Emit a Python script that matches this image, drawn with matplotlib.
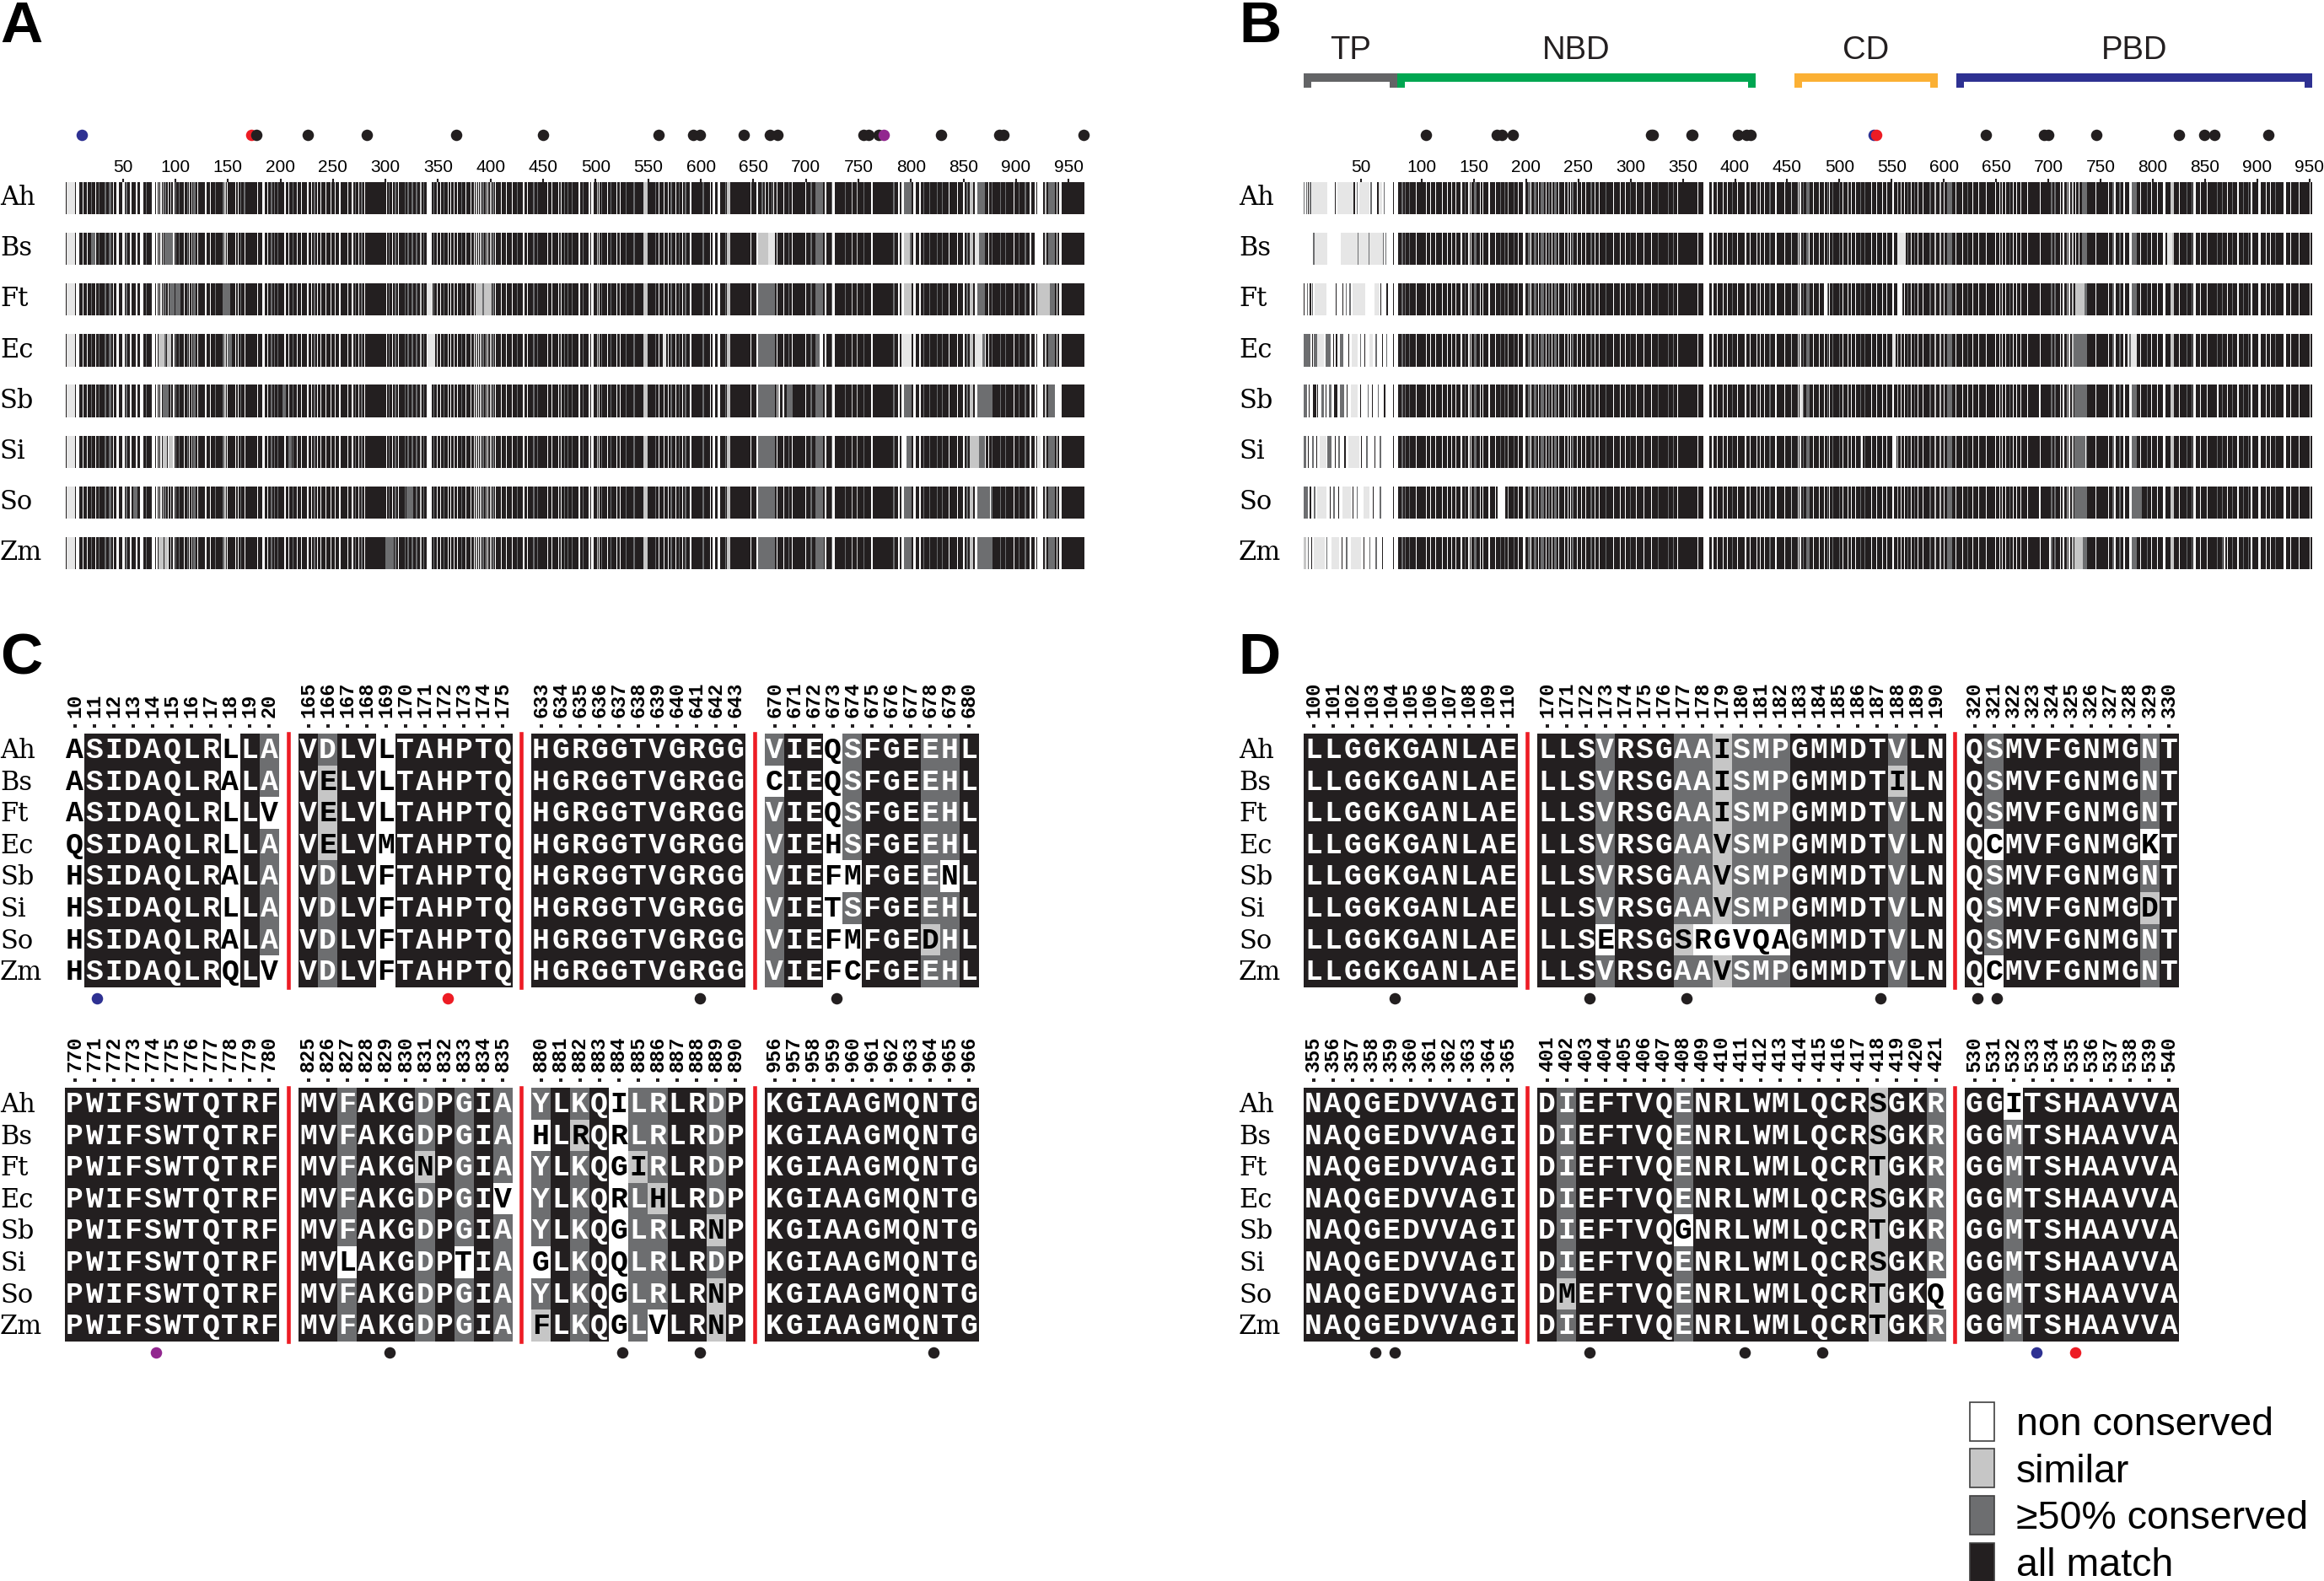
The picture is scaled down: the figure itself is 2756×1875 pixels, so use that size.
import matplotlib
matplotlib.use('Agg')
import matplotlib.pyplot as plt
from matplotlib.colors import ListedColormap
from matplotlib.patches import Rectangle

W, H = 2756, 1875

species = ['Ah', 'Bs', 'Ft', 'Ec', 'Sb', 'Si', 'So', 'Zm']

# alignment, panel C
c1_seq = ['ASIDAQLRLLA', 'ASIDAQLRALA', 'ASIDAQLRLLV', 'QSIDAQLRLLA', 'HSIDAQLRALA', 'HSIDAQLRLLA', 'HSIDAQLRALA', 'HSIDAQLRQLV']
c1_cons = ['nkkkkkkknkd', 'nkkkkkkknkd', 'nkkkkkkknkn', 'nkkkkkkknkd', 'nkkkkkkknkd', 'nkkkkkkknkd', 'nkkkkkkknkd', 'nkkkkkkknkn']
c2_seq = ['VDLVLTAHPTQ', 'VELVLTAHPTQ', 'VELVLTAHPTQ', 'VELVMTAHPTQ', 'VDLVFTAHPTQ', 'VDLVFTAHPTQ', 'VDLVFTAHPTQ', 'VDLVFTAHPTQ']
c2_cons = ['kdkknkkkkkk', 'kskknkkkkkk', 'kskknkkkkkk', 'kskknkkkkkk', 'kdkknkkkkkk', 'kdkknkkkkkk', 'kdkknkkkkkk', 'kdkknkkkkkk']
c3_seq = ['HGRGGTVGRGG'] * 8
c3_cons = ['kkkkkkkkkkk'] * 8
c4_seq = ['VIEQSFGEEHL', 'CIEQSFGEEHL', 'VIEQSFGEEHL', 'VIEHSFGEEHL', 'VIEFMFGEENL', 'VIETSFGEEHL', 'VIEFMFGEDHL', 'VIEFCFGEEHL']
c4_cons = ['dkkndkkkddk', 'nkkndkkkddk', 'dkkndkkkddk', 'dkkndkkkddk', 'dkknnkkkdnk', 'dkkndkkkddk', 'dkknnkkksdk', 'dkknnkkkddk']
c5_seq = ['PWIFSWTQTRF'] * 8
c5_cons = ['kkkkkkkkkkk'] * 8
c6_seq = ['MVFAKGDPGIA', 'MVFAKGDPGIA', 'MVFAKGNPGIA', 'MVFAKGDPGIV', 'MVFAKGDPGIA', 'MVLAKGDPTIA', 'MVFAKGDPGIA', 'MVFAKGDPGIA']
c6_cons = ['kkdkkkdkdkd', 'kkdkkkdkdkd', 'kkdkkkskdkd', 'kkdkkkdkdkn', 'kkdkkkdkdkd', 'kknkkkdknkd', 'kkdkkkdkdkd', 'kkdkkkdkdkd']
c7_seq = ['YLKQILRLRDP', 'HLRQRLRLRDP', 'YLKQGIRLRDP', 'YLKQRLHLRDP', 'YLKQGLRLRNP', 'GLKQQLRLRDP', 'YLKQGLRLRNP', 'FLKQGLVLRNP']
c7_cons = ['dkdknddkkdk', 'nksknddkkdk', 'dkdknsdkkdk', 'dkdkndskkdk', 'dkdknddkksk', 'nkdknddkkdk', 'dkdknddkksk', 'skdkndnkksk']
c8_seq = ['KGIAAGMQNTG'] * 8
c8_cons = ['kkkkkkkkkkk'] * 8

# alignment, panel D
d1_seq = ['LLGGKGANLAE'] * 8
d1_cons = ['kkkkkkkkkkk'] * 8
d2_seq = ['LLSVRSGAAISMPGMMDTVLN', 'LLSVRSGAAISMPGMMDTILN', 'LLSVRSGAAISMPGMMDTVLN', 'LLSVRSGAAVSMPGMMDTVLN',
          'LLSVRSGAAVSMPGMMDTVLN', 'LLSVRSGAAVSMPGMMDTVLN', 'LLSERSGSRGVQAGMMDTVLN', 'LLSVRSGAAVSMPGMMDTVLN']
d2_cons = ['kkkdkkkddsdddkkkkkdkk', 'kkkdkkkddsdddkkkkkskk', 'kkkdkkkddsdddkkkkkdkk', 'kkkdkkkddsdddkkkkkdkk',
           'kkkdkkkddsdddkkkkkdkk', 'kkkdkkkddsdddkkkkkdkk', 'kkknkkksnnnnnkkkkkdkk', 'kkkdkkkddsdddkkkkkdkk']
d3_seq = ['QSMVFGNMGNT', 'QSMVFGNMGNT', 'QSMVFGNMGNT', 'QCMVFGNMGKT', 'QSMVFGNMGNT', 'QSMVFGNMGDT', 'QSMVFGNMGNT', 'QCMVFGNMGNT']
d3_cons = ['kdkkkkkkkdk', 'kdkkkkkkkdk', 'kdkkkkkkkdk', 'knkkkkkkknk', 'kdkkkkkkkdk', 'kdkkkkkkksk', 'kdkkkkkkkdk', 'knkkkkkkkdk']
d4_seq = ['NAQGEDVVAGI'] * 8
d4_cons = ['kkkkkkkkkkk'] * 8
d5_seq = ['DIEFTVQENRLWMLQCRSGKR', 'DIEFTVQENRLWMLQCRSGKR', 'DIEFTVQENRLWMLQCRTGKR', 'DIEFTVQENRLWMLQCRSGKR',
          'DIEFTVQGNRLWMLQCRTGKR', 'DIEFTVQENRLWMLQCRSGKR', 'DMEFTVQENRLWMLQCRTGKQ', 'DIEFTVQENRLWMLQCRTGKR']
d5_cons = ['kdkkkkkdkkkkkkkkkskkd', 'kdkkkkkdkkkkkkkkkskkd', 'kdkkkkkdkkkkkkkkkskkd', 'kdkkkkkdkkkkkkkkkskkd',
           'kdkkkkknkkkkkkkkkskkd', 'kdkkkkkdkkkkkkkkkskkd', 'kskkkkkdkkkkkkkkkskkn', 'kdkkkkkdkkkkkkkkkskkd']
d6_seq = ['GGITSHAAVVA', 'GGMTSHAAVVA', 'GGMTSHAAVVA', 'GGMTSHAAVVA', 'GGMTSHAAVVA', 'GGMTSHAAVVA', 'GGMTSHAAVVA', 'GGMTSHAAVVA']
d6_cons = ['kknkkkkkkkk', 'kkdkkkkkkkk', 'kkdkkkkkkkk', 'kkdkkkkkkkk', 'kkdkkkkkkkk', 'kkdkkkkkkkk', 'kkdkkkkkkkk', 'kkdkkkkkkkk']

# marked residues below the alignments
c_black = [641, 673, 829, 884, 888, 964]
c_blue = [11]
c_red = [172]
c_purple = [774]
d_black = [104, 172, 177, 187, 320, 321, 358, 359, 403, 411, 415]
d_blue = [533]
d_red = [535]

# marked residues above the overview bars
a_black = [177, 226, 282, 367, 450, 560, 593, 599, 641, 666, 673, 755, 760, 769, 829, 884, 888, 964]
a_blue = [11]
a_red = [172]
a_purple = [774]
b_black = [104, 172, 177, 187, 320, 321, 358, 359, 403, 411, 415, 640, 696, 700, 746, 825, 849, 859, 911]
b_blue = [533]
b_red = [535]

a_ticks = [50, 100, 150, 200, 250, 300, 350, 400, 450, 500, 550, 600, 650, 700, 750, 800, 850, 900, 950]
b_labels = [50, 100, 150, 200, 250, 300, 350, 400, 450, 500, 550, 600, 650, 700, 750, 800, 850, 900, 950]
b_ticks = [42, 100, 150, 200, 250, 300, 350, 400, 450, 500, 550, 600, 650, 700, 750, 800, 850, 900, 950]

domain_names = ['TP', 'NBD', 'CD', 'PBD']
domain_start = [-13, 76.6, 456.9, 611.9]
domain_end = [76.6, 419.7, 594.1, 952.6]
domain_colors = ['#636466', '#00a651', '#fbb034', '#2e3192']

# overview bars: (column, width, shade)
a_gaps = [(-3, 8, 'e'), (5.8, 3, 'w'), (20, 1, 'g'), (27, 1, 'g'), (33, 1, 'g'), (37, 2, 'g'), (44.3, 2.3, 'w'), (49.7, 2.4, 'w'),
          (53, 1, 'g'), (57, 1.5, 'w'), (62, 1.6, 'w'), (66.5, 2.8, 'w'), (72, 1, 'g'), (78, 2.6, 'w'), (82, 1.2, 'w'), (84, 1, 'l'),
          (86, 1, 'w'), (88, 1, 'l'), (90, 1.5, 'g'), (93, 1, 'w'), (95, 1.2, 'l'), (98, 1, 'w'), (100, 1, 'g'), (103, 1, 'g'),
          (108, 1, 'w'), (111, 1, 'g'), (113, 1, 'w'), (115, 1, 'l'), (117, 2, 'g'), (121, 1, 'w'), (128, 2, 'w'), (133, 1, 'w'),
          (138, 1, 'g'), (145, 1.5, 'g'), (147, 1.2, 'l'), (149, 1.2, 'w'), (157, 1, 'w'), (166, 1, 'w'), (183, 2.2, 'w'), (191, 1, 'g'),
          (194, 1, 'g'), (197, 1, 'g'), (204, 1, 'w'), (225, 1.8, 'w'), (232, 1, 'g'), (238, 1, 'w'), (243, 1, 'w'), (255.6, 1.5, 'w'),
          (268, 1, 'w'), (271, 1, 'g'), (274, 1, 'w'), (277, 1.5, 'g'), (280, 1, 'w'), (300.5, 1, 'w'), (303, 1, 'g'), (306, 1, 'w'),
          (309, 1, 'g'), (312, 1, 'w'), (318, 1, 'g'), (321, 1, 'g'), (325, 1, 'g'), (329, 1, 'g'), (333, 1, 'l'), (336, 1, 'g'),
          (339, 5, 'w'), (349, 1, 'w'), (355, 1, 'g'), (359, 1, 'w'), (365, 1, 'w'), (372, 1, 'g'), (381, 1, 'w'), (384, 1, 'w'),
          (386, 1, 'l'), (388, 1, 'w'), (390, 1, 'l'), (392, 1.5, 'g'), (395, 1, 'l'), (397, 1, 'w'), (399, 2, 'l'), (402, 1.5, 'g'),
          (404, 1, 'w'), (420, 1, 'w'), (431, 1, 'w'), (440, 1.5, 'g'), (444, 1, 'g'), (454, 1, 'w'), (464, 1, 'w'), (470, 1, 'g'),
          (473, 1, 'g'), (477, 1, 'g'), (484, 1, 'w'), (487.7, 1, 'g'), (493, 1.6, 'w'), (495.3, 2.5, 'w'), (501, 1, 'l'), (503, 1, 'w'),
          (505, 1, 'g'), (510.5, 1, 'w'), (513.7, 1, 'g'), (519.4, 1, 'w'), (523, 1, 'w'), (528.6, 1, 'g'), (536, 1, 'g'), (545.4, 3.8, 'l'),
          (556.5, 1, 'g'), (559.6, 1, 'w'), (564.4, 1, 'w'), (568.5, 1, 'w'), (571.4, 1, 'g'), (575.5, 1, 'w'), (578.7, 1, 'g'), (581.9, 1, 'w'),
          (585, 1, 'g'), (589.8, 1, 'w'), (601.8, 1, 'g'), (608.8, 1, 'w'), (611.3, 2.3, 'w'), (615.8, 2.5, 'w'), (623, 1, 'g'), (625, 2.8, 'l'),
          (646.9, 1, 'w'), (652.6, 2.2, 'w'), (658, 1, 'g'), (661, 1, 'w'), (664.3, 1, 'l'), (667.5, 1, 'g'), (669, 1, 'w'), (672.2, 1, 'w'),
          (678.6, 1, 'w'), (683.3, 1, 'g'), (686.5, 1, 'w'), (699.2, 1, 'w'), (704.6, 1, 'g'), (708.7, 7.3, 'g'), (718.2, 1, 'w'), (724.5, 1, 'g'),
          (725.5, 2.2, 'w'), (737.2, 1, 'g'), (743.6, 1, 'l'), (748, 1.5, 'l'), (754.7, 1, 'g'), (762, 2, 'w'), (783.2, 1, 'g'), (788, 1, 'w'),
          (791.1, 2.6, 'w'), (793.7, 7, 'g'), (802.3, 2.5, 'w'), (808, 1, 'w'), (811.8, 1, 'g'), (817.5, 1, 'g'), (824.4, 1, 'g'), (829.2, 1, 'g'),
          (835.5, 1, 'w'), (843.5, 1, 'w'), (849.8, 1, 'w'), (853, 1, 'g'), (856.1, 3.2, 'l'), (860.9, 2.2, 'w'), (863.1, 7.3, 'g'), (873.6, 1, 'w'),
          (876.8, 1, 'g'), (884.7, 1, 'g'), (889.4, 1, 'g'), (897.4, 1, 'w'), (902.1, 1, 'g'), (908.4, 1, 'g'), (913.2, 1, 'w'), (918, 1, 'w'),
          (920.2, 5.7, 'w'), (927.5, 1, 'l'), (930.7, 6.3, 'g'), (938.6, 1, 'w'), (941.1, 1.9, 'w'),
          (12, 0.7, 'w'), (16, 0.7, 'w'), (24, 0.7, 'w'), (30, 0.7, 'g'), (41, 0.7, 'w'), (159.5, 0.7, 'w'), (162, 0.7, 'g'), (172, 0.7, 'w'),
          (178, 0.7, 'w'), (187.5, 0.7, 'w'), (200, 0.7, 'w'), (208, 0.7, 'w'), (212, 0.7, 'g'), (216, 0.7, 'w'), (220, 0.7, 'w'), (229, 0.7, 'w'),
          (235, 0.7, 'w'), (248, 0.7, 'w'), (252, 0.7, 'w'), (261, 0.7, 'w'), (264, 0.7, 'w'), (345.5, 0.7, 'g'), (352, 0.7, 'w'), (362, 0.7, 'w'),
          (368, 0.7, 'w'), (376, 0.7, 'w'), (410, 0.7, 'w'), (415, 0.7, 'w'), (425, 0.7, 'g'), (435, 0.7, 'w'), (448, 0.7, 'w'), (458, 0.7, 'w'),
          (467, 0.7, 'w'), (480, 0.7, 'w')]

a_row_gaps = [
    [(165, 2, 'g')],
    [(20, 4, 'g'), (90, 8, 'g'), (654.8, 9, 'l'), (664, 6.6, 'e'), (860.9, 4, 'e'), (919, 4, 'w'), (793.7, 5, 'l')],
    [(94.5, 5, 'g'), (101, 4, 'g'), (145, 7, 'g'), (339, 6, 'e'), (386, 6, 'l'), (394, 5, 'l'), (654.8, 15.8, 'g'), (793.7, 7, 'l'), (920.2, 12, 'l')],
    [(85, 5, 'l'), (92, 4, 'l'), (150, 4, 'g'), (340, 7, 'e'), (654.8, 15.8, 'g'), (563.8, 3, 'e'), (712.8, 3.2, 'w'), (791, 9.7, 'e'), (861, 7, 'e'), (870, 1.2, 'w')],
    [(88, 6, 'g'), (202, 3, 'g'), (654.8, 15.8, 'g'), (674, 1.5, 'w'), (678, 1.5, 'w'), (682, 5, 'g'), (937, 6, 'w'), (863.1, 14, 'g')],
    [(88, 4, 'l'), (94, 4, 'l'), (208, 3, 'g'), (654.8, 15.8, 'g'), (793.7, 2.3, 'w'), (856, 9, 'l'), (870, 1, 'w'), (921, 2, 'e')],
    [(60, 4, 'g'), (320, 6, 'g'), (654.8, 15.8, 'g'), (794, 5, 'g'), (708.7, 6, 'g'), (863.1, 14, 'g'), (875, 1, 'w')],
    [(84, 4, 'l'), (90, 3, 'l'), (300, 8, 'g'), (654.8, 15.8, 'g'), (708.7, 8, 'g'), (802, 1, 'w'), (863.1, 14, 'g'), (930.7, 6, 'g')],
]

b_gaps = [(73.5, 4, 'w'), (81, 1, 'g'), (84, 1, 'g'), (88, 1, 'g'), (94, 1, 'w'), (119.5, 1, 'w'), (128.4, 1, 'w'), (132, 1, 'w'),
          (137.5, 1, 'w'), (141, 1, 'g'), (144.7, 1, 'w'), (150.1, 2.5, 'g'), (155.5, 1, 'w'), (158, 1, 'w'), (163.8, 1.7, 'w'), (175.3, 1, 'g'),
          (178.9, 1, 'g'), (182.5, 1, 'l'), (188, 1, 'g'), (197, 2.5, 'w'), (202, 2, 'g'), (204.3, 1, 'w'), (207.7, 2, 'g'), (211.3, 1, 'w'),
          (214, 3, 'g'), (218.5, 1, 'w'), (221, 2, 'g'), (224.5, 1, 'w'), (227, 2, 'g'), (231, 1, 'w'), (236.6, 1, 'w'), (242, 1, 'w'),
          (244, 1, 'g'), (248.5, 1, 'w'), (252.8, 1, 'w'), (256.4, 1, 'w'), (261.8, 1, 'g'), (265.4, 1, 'w'), (269.7, 1, 'w'), (276, 1, 'g'),
          (283.4, 1, 'w'), (294.2, 1, 'w'), (299.6, 1, 'g'), (312.2, 1, 'w'), (335.6, 1, 'g'), (340.3, 1, 'g'), (370, 5.3, 'w'), (378, 1, 'w'),
          (382.5, 1, 'w'), (397, 1, 'g'), (409.6, 1, 'w'), (420.4, 1, 'w'), (427.6, 1, 'w'), (433, 1, 'g'), (438.3, 1.8, 'w'), (453.7, 1, 'l'),
          (460, 1, 'w'), (462, 1, 'w'), (465.1, 1, 'g'), (468.4, 3, 'g'), (484.8, 1, 'w'), (488, 1, 'g'), (489.7, 1, 'w'), (493, 1, 'g'),
          (499.5, 1, 'g'), (502.8, 1, 'w'), (507.7, 1, 'w'), (519.8, 1, 'g'), (524, 1, 'g'), (530, 1, 'w'), (540.5, 1, 'w'), (550.3, 1.7, 'w'),
          (555.2, 1, 'l'), (558.5, 1, 'w'), (561.8, 1, 'w'), (565, 1, 'g'), (568.3, 1, 'w'), (571.6, 1, 'g'), (574.8, 1, 'w'), (579.8, 1, 'w'),
          (586.3, 1, 'g'), (591.2, 1, 'l'), (596.1, 1, 'l'), (599.4, 1, 'w'), (602.7, 5, 'g'), (610.9, 1, 'w'), (617.4, 1, 'w'), (622.3, 1, 'g'),
          (627.3, 1, 'w'), (632.8, 1, 'w'), (649.2, 1, 'w'), (652.8, 1, 'w'), (655.1, 1, 'w'), (658.4, 1, 'w'), (662.6, 1, 'g'), (665.9, 1, 'w'),
          (669.2, 1, 'w'), (673.1, 1, 'w'), (692, 1, 'w'), (702.6, 1, 'g'), (705.9, 1, 'g'), (710.8, 1, 'w'), (714, 1, 'w'), (717.3, 1, 'l'),
          (719.6, 1, 'w'), (722.9, 1, 'l'), (725.5, 1, 'w'), (728.8, 1, 'w'), (732, 5, 'g'), (761.5, 1, 'g'), (763.2, 1, 'w'), (768, 1, 'g'),
          (772, 1, 'w'), (777, 2.5, 'w'), (779.5, 5.5, 'g'), (794.3, 1, 'g'), (798.5, 1, 'w'), (804, 1, 'w'), (810, 2.3, 'w'), (817.2, 3.3, 'l'),
          (831.9, 1, 'g'), (836.9, 1, 'g'), (838.4, 2.4, 'w'), (861.4, 1, 'g'), (866.3, 1, 'g'), (871.2, 1, 'w'), (876.1, 1, 'g'), (881, 1, 'w'),
          (886, 1, 'g'), (890.9, 1, 'g'), (894, 1, 'w'), (900.7, 2.6, 'w'), (917, 1, 'g'), (925.3, 2.6, 'w'), (949.8, 1, 'w'),
          (104, 0.7, 'w'), (108, 0.7, 'w'), (113, 0.7, 'w'), (124, 0.7, 'w'), (147, 0.7, 'w'), (170, 0.7, 'w'), (192, 0.7, 'w'), (240, 0.7, 'w'),
          (287, 0.7, 'w'), (290, 0.7, 'w'), (305, 0.7, 'w'), (320, 0.7, 'w'), (326, 0.7, 'g'), (345, 0.7, 'w'), (350, 0.7, 'w'), (358, 0.7, 'w'),
          (364, 0.7, 'w'), (388, 0.7, 'w'), (392, 0.7, 'w'), (402, 0.7, 'w'), (414, 0.7, 'w'), (424, 0.7, 'w'), (442, 0.7, 'g'), (447, 0.7, 'w'),
          (475, 0.7, 'w'), (480, 0.7, 'w'), (511, 0.7, 'w'), (515, 0.7, 'w'), (535, 0.7, 'w'), (545, 0.7, 'w'), (640, 0.7, 'w'), (680, 0.7, 'w'),
          (685, 0.7, 'w'), (745, 0.7, 'w'), (752, 0.7, 'w'), (757, 0.7, 'w'), (788, 0.7, 'w'), (825, 0.7, 'w'), (845, 0.7, 'w'), (852, 0.7, 'w'),
          (908, 0.7, 'w'), (912, 0.7, 'w'), (932, 0.7, 'w'), (940, 0.7, 'w')]

b_row_gaps = [
    [(-12.8, 1, 'g'), (-10.5, 1, 'g'), (-9, 1, 'k'), (-7, 1.2, 'g'), (-5.6, 15, 'e'), (17, 1, 'k'), (19, 16, 'e'), (35, 1, 'k'), (38, 1, 'g'),
     (40, 10, 'e'), (51, 1, 'g'), (57.5, 1, 'k'), (59, 3, 'e'), (63.5, 1, 'g'), (72.5, 1, 'k')],
    [(-3.8, 13.3, 'e'), (-3.8, 1, 'g'), (22.5, 16, 'e'), (38.3, 1, 'g'), (39.5, 9.5, 'e'), (49, 1, 'g'), (50, 12.5, 'e'), (62.5, 1, 'g'), (65.5, 1, 'g'),
     (72.5, 1, 'k'), (470.7, 1, 'w'), (555, 8.4, 'e'), (814, 4.8, 'e')],
    [(-12.8, 1, 'k'), (-10, 1, 'g'), (-7, 1, 'k'), (-5, 1, 'g'), (-2.5, 11, 'e'), (17.4, 1, 'k'), (24, 1, 'k'), (27.5, 1, 'g'), (31, 1, 'g'), (34, 12, 'e'),
     (55, 5, 'e'), (60.5, 1, 'k'), (66.5, 1, 'k'), (72.5, 1, 'k'), (484.8, 3.3, 'w'), (555, 5, 'w'), (725.5, 9, 'l')],
    [(-12.8, 6, 'g'), (-5, 1, 'k'), (-3, 3, 'g'), (0, 6, 'e'), (8, 5, 'g'), (15, 1, 'k'), (18, 1, 'k'), (22, 3, 'g'), (30, 1, 'k'), (33, 6, 'e'),
     (41, 1, 'g'), (45, 1, 'k'), (50, 3, 'e'), (56, 1, 'g'), (62, 1, 'k'), (66, 1, 'g'), (72.5, 1, 'k'), (550.3, 3.3, 'e'), (723.9, 8, 'g'), (776, 8.5, 'e'), (777, 2, 'g')],
    [(-12.8, 3, 'g'), (-8, 1, 'k'), (-4, 3, 'k'), (0, 1, 'k'), (4, 2, 'g'), (8, 1, 'k'), (11, 3, 'g'), (16, 3, 'k'), (22, 4, 'g'), (28, 1, 'k'), (32, 7, 'e'),
     (41, 1, 'k'), (48, 1, 'g'), (52, 1, 'k'), (58, 1, 'g'), (64, 1, 'k'), (72.5, 1, 'k'), (461.9, 3.1, 'e'), (622, 1, 'w'), (691, 1, 'w'), (725, 11, 'g'), (861.4, 1.2, 'w')],
    [(-12.8, 2, 'g'), (-9, 1, 'k'), (-5, 2, 'g'), (-1, 1, 'k'), (2, 7, 'e'), (10, 4, 'g'), (17, 1, 'k'), (20, 2, 'g'), (26, 1, 'k'), (30, 10, 'e'), (42, 1, 'k'),
     (47, 1, 'g'), (55, 1, 'k'), (60, 1, 'g'), (72.5, 1, 'k'), (520.8, 1.2, 'w'), (552, 2.6, 'w'), (725, 9, 'g'), (735.3, 1.2, 'w')],
    [(-12.8, 4, 'g'), (-7, 1, 'k'), (-3, 1, 'g'), (0, 9, 'e'), (12, 1, 'k'), (15, 2, 'g'), (20, 1, 'k'), (24, 8, 'e'), (34, 1, 'k'), (38, 1, 'g'), (44, 6, 'e'),
     (53, 1, 'k'), (60, 1, 'g'), (72.5, 1, 'k'), (173, 7, 'w'), (691, 1, 'w'), (725, 10, 'g'), (779.5, 10, 'g')],
    [(-12.8, 2, 'l'), (-9, 1, 'g'), (-6, 1, 'k'), (-3, 10, 'e'), (9, 1, 'g'), (14, 7, 'e'), (23, 1, 'k'), (27, 2, 'g'), (32, 10, 'e'), (44, 1, 'k'), (50, 1, 'g'),
     (56, 1, 'g'), (62, 1, 'k'), (72.5, 1, 'k'), (701, 1.2, 'w'), (725, 8, 'l'), (868, 1.2, 'w')],
]

black = '#231f20'
gray = '#6d6e70'
light = '#c6c6c6'
pale = '#e6e6e6'
red = '#ed1c24'
blue = '#2e3192'
purple = '#92278f'
shade_colors = {'k': black, 'g': gray, 'l': light, 'e': pale, 'w': 'white'}
cons_index = {'k': 0, 'd': 1, 's': 2, 'n': 3}
cons_cmap = ListedColormap([black, gray, light, 'white'])

mono = 'Liberation Mono'
sans = 'Liberation Sans'
serif = 'DejaVu Serif'


def px_axes(left, top, right, bottom):
    return fig.add_axes([left / W, 1 - bottom / H, (right - left) / W, (bottom - top) / H])


def draw_block(left, top, seq, cons, start, dots, red_line=True, label_x=None):
    n = len(seq[0])
    ax = px_axes(left, top, left + n * 23.05, top + 301)
    ax.imshow([[cons_index[c] for c in row] for row in cons], cmap=cons_cmap, vmin=0, vmax=3,
              aspect='auto', interpolation='nearest')
    ax.set_xlim(-0.5, n - 0.5)
    ax.set_ylim(7.5, -0.5)
    for i, row in enumerate(seq):
        for j, letter in enumerate(row):
            color = 'white' if cons[i][j] in 'kd' else 'black'
            ax.text(j, i + 0.27, letter, color=color, ha='center', va='baseline',
                    family=mono, weight='bold', fontsize=25)
    ax.set_xticks(range(n))
    ax.set_xticklabels([str(start + k) for k in range(n)], rotation=90, family=mono, weight='bold', fontsize=17)
    ax.xaxis.tick_top()
    ax.tick_params(axis='x', length=0, pad=14)
    ax.set_yticks([])
    for s in ax.spines.values():
        s.set_visible(False)
    ax.scatter(range(n), [-0.74] * n, s=9, marker='s', color=black, linewidths=0, clip_on=False)
    for res_list, color in dots:
        for res in res_list:
            if start <= res < start + n:
                ax.scatter(res - start + 0.17, 7.85, s=95, color=color, linewidths=0, clip_on=False, zorder=5)
    if red_line:
        ax.axvline(-1.02, color=red, lw=3.3, clip_on=False)
    if label_x is not None:
        for i, name in enumerate(species):
            ax.text((label_x - left) / 23.05 - 0.5, i + 0.27, name, ha='left', va='baseline',
                    family=serif, fontsize=22, clip_on=False)


def draw_overview(left, right, xmin, xmax, base_start, gaps, row_gaps, ticks, tick_labels, dots, label_x):
    ax = px_axes(left, 215.5, right, 677)
    ax.set_xlim(xmin, xmax)
    ax.set_ylim(677, 215.5)
    for i, name in enumerate(species):
        y0 = 215.5 + 60.2 * i
        ax.broken_barh([(base_start, xmax - base_start)], (y0, 38.5), color=black, linewidth=0)
        for col, width, shade in gaps + row_gaps[i]:
            ax.broken_barh([(col, width)], (y0, 38.5), color=shade_colors[shade], linewidth=0)
        ax.text(xmin + (label_x - left) * (xmax - xmin) / (right - left), y0 + 27.5, name, ha='left', va='baseline',
                family=serif, fontsize=22, clip_on=False)
    ax.set_xticks(ticks)
    ax.set_xticklabels([str(t) for t in tick_labels], family=sans, fontsize=15)
    ax.xaxis.tick_top()
    ax.tick_params(axis='x', length=2.7, width=1.5, pad=2.5, color=black)
    ax.set_yticks([])
    for s in ax.spines.values():
        s.set_visible(False)
    for res_list, color in dots:
        ax.scatter(res_list, [160] * len(res_list), s=95, color=color, linewidths=0, clip_on=False)
    return ax


fig = plt.figure(figsize=(W / 100, H / 100), dpi=100)

overlay = fig.add_axes([0, 0, 1, 1])
overlay.set_xlim(0, W)
overlay.set_ylim(H, 0)
overlay.axis('off')

draw_overview(78, 1286, -4.2, 965, -4.2, a_gaps, a_row_gaps, a_ticks, a_ticks,
              [(a_blue, blue), (a_red, red), (a_black, black), (a_purple, purple)], 0)
ax_b = draw_overview(1546, 2742, -13, 952.6, 73, b_gaps, b_row_gaps, b_ticks, b_labels,
                     [(b_blue, blue), (b_red, red), (b_black, black)], 1469)

for name, c0, c1, color in zip(domain_names, domain_start, domain_end, domain_colors):
    ax_b.broken_barh([(c0, c1 - c0)], (87, 10), color=color, linewidth=0, clip_on=False)
    ax_b.broken_barh([(c0, 7.3), (c1 - 7.3, 7.3)], (87, 16.5), color=color, linewidth=0, clip_on=False)
    ax_b.text((c0 + c1) / 2, 70, name, ha='center', va='baseline', family=sans, fontsize=27.5, color=black)

c_dots = [(c_blue, blue), (c_red, red), (c_black, black), (c_purple, purple)]
d_dots = [(d_blue, blue), (d_red, red), (d_black, black)]

draw_block(77, 870, c1_seq, c1_cons, 10, c_dots, red_line=False, label_x=0)
draw_block(354, 870, c2_seq, c2_cons, 165, c_dots)
draw_block(630, 870, c3_seq, c3_cons, 633, c_dots)
draw_block(907, 870, c4_seq, c4_cons, 670, c_dots)
draw_block(77, 1290, c5_seq, c5_cons, 770, c_dots, red_line=False, label_x=0)
draw_block(354, 1290, c6_seq, c6_cons, 825, c_dots)
draw_block(630, 1290, c7_seq, c7_cons, 880, c_dots)
draw_block(907, 1290, c8_seq, c8_cons, 956, c_dots)

draw_block(1546, 870, d1_seq, d1_cons, 100, d_dots, red_line=False, label_x=1469)
draw_block(1823, 870, d2_seq, d2_cons, 170, d_dots)
draw_block(2330, 870, d3_seq, d3_cons, 320, d_dots)
draw_block(1546, 1290, d4_seq, d4_cons, 355, d_dots, red_line=False, label_x=1469)
draw_block(1823, 1290, d5_seq, d5_cons, 401, d_dots)
draw_block(2330, 1290, d6_seq, d6_cons, 530, d_dots)

# panel letters
for letter, x, y in [('A', 0, 50), ('B', 1469, 50), ('C', 0, 799), ('D', 1468, 799)]:
    overlay.text(x, y, letter, family=sans, weight='bold', fontsize=50, ha='left', va='baseline', color='black')

# legend
legend_labels = ['non conserved', 'similar', '\u226550% conserved', 'all match']
legend_colors = ['white', light, gray, black]
legend_tops = [1663, 1718, 1774, 1830]
legend_base = [1702, 1758, 1813, 1869]
for lab, col, top, base in zip(legend_labels, legend_colors, legend_tops, legend_base):
    overlay.add_patch(Rectangle((2336, top), 29, 46, facecolor=col, edgecolor='#404040', linewidth=1.2))
    overlay.text(2391, base, lab, family=sans, fontsize=33.5, ha='left', va='baseline', color='black')

plt.savefig('out.png', dpi=100)
